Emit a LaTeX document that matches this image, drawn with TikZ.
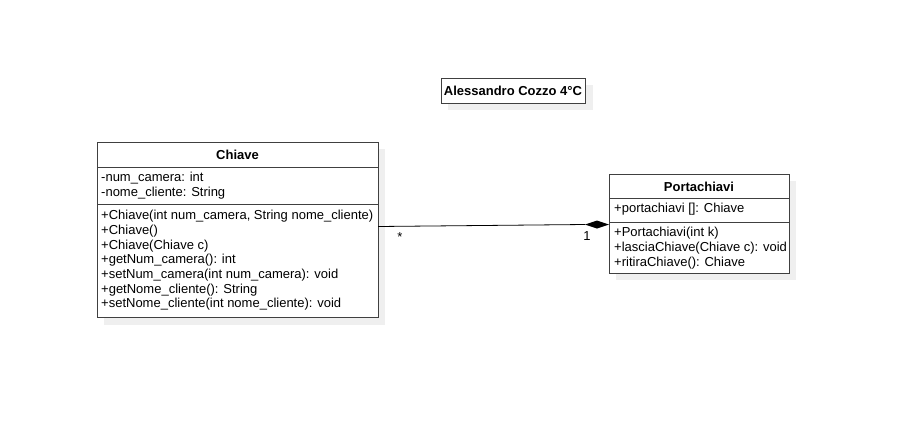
\documentclass[tikz,border=0pt]{standalone}
\usepackage{fontspec}
\setmainfont{Liberation Sans}
\usetikzlibrary{calc}
\definecolor{edgegray}{HTML}{404040}
\definecolor{shadowgray}{HTML}{EFEFEF}
\tikzset{
  box/.style={draw=edgegray, line width=1pt, fill=white},
  sep/.style={draw=edgegray, line width=1pt},
  txt/.style={inner sep=0pt, align=left, font=\fontsize{13}{14.7}\selectfont},
  ttl/.style={inner sep=0pt, font=\fontsize{13}{14.7}\selectfont\bfseries},
  assoc/.style={draw=black, line width=0.8pt},
  mult/.style={inner sep=0pt, font=\fontsize{13}{14.7}\selectfont}
}
\begin{document}
\begin{tikzpicture}[x=1pt,y=-1pt]
\useasboundingbox (0,0) rectangle (916,440);
% Title box
\fill[shadowgray] (448,85) rectangle (593,110);
\draw[box] (441,78) rectangle (585,103);
\node[ttl] (author) at (513,90.5) {Alessandro Cozzo 4°C};
% Chiave class
\fill[shadowgray] (104,149) rectangle (385,325);
\draw[box] (97,142) rectangle (378,317);
\draw[sep] (97,167) -- (378,167);
\draw[sep] (97,204) -- (378,204);
\node[ttl] (chtitle) at (237.5,155) {Chiave};
\node[txt, anchor=west] (chattr) at (101,185.5) {-num\_camera: int\\-nome\_cliente: String};
\node[txt, anchor=west] (chmeth) at (101,260.5) {+Chiave(int num\_camera, String nome\_cliente)\\+Chiave()\\+Chiave(Chiave c)\\+getNum\_camera(): int\\+setNum\_camera(int num\_camera): void\\+getNome\_cliente(): String\\+setNome\_cliente(int nome\_cliente): void};
% Portachiavi class
\fill[shadowgray] (616,181) rectangle (796,280);
\draw[box] (609,174) rectangle (789,273);
\draw[sep] (609,198) -- (789,198);
\draw[sep] (609,222) -- (789,222);
\node[ttl] (pctitle) at (699,186.5) {Portachiavi};
\node[txt, anchor=west] (pcattr) at (614,209.5) {+portachiavi []: Chiave};
\node[txt, anchor=west] (pcmeth) at (614,248) {+Portachiavi(int k)\\+lasciaChiave(Chiave c): void\\+ritiraChiave(): Chiave};
% connector
\coordinate (aStart) at (378,226.5);
\coordinate (dTip) at (585,224.5);
\coordinate (dEnd) at (609,224.5);
\draw[assoc] (aStart) -- (dTip);
\fill[black] (dTip) -- (597,220.5) -- (dEnd) -- (597,228.5) -- cycle;
\node[mult] (mstar) at (400,237) {*};
\node[mult] (mone) at (587,236) {1};
\end{tikzpicture}
\end{document}
